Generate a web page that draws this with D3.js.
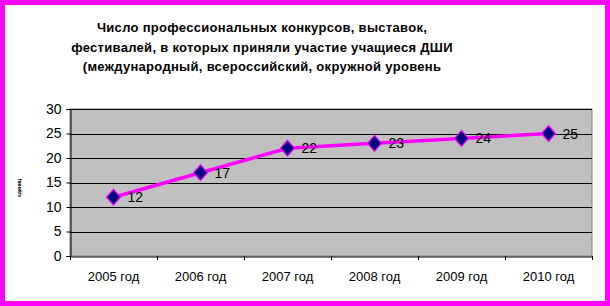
<!DOCTYPE html>
<html>
<head>
<meta charset="utf-8">
<script src="https://cdn.jsdelivr.net/npm/d3@7"></script>
<style>
  html, body { margin: 0; padding: 0; background: #fff; }
  svg { display: block; }
</style>
</head>
<body>
<div id="chart"></div>
<script>
const years = ['2005 год', '2006 год', '2007 год', '2008 год', '2009 год', '2010 год']
const counts = [12, 17, 22, 23, 24, 25]
const yTicks = [0, 5, 10, 15, 20, 25, 30]
const titleLines = [
  'Число профессиональных конкурсов, выставок,',
  'фестивалей, в которых приняли участие учащиеся ДШИ',
  '(международный, всероссийский, окружной уровень'
]

const W = 610, H = 306
const plot = {left: 70, right: 592, top: 109, bottom: 256}

const svg = d3.select('#chart').append('svg')
  .attr('width', W)
  .attr('height', H)
  .style('font-family', 'Arial, "Liberation Sans", sans-serif')

// magenta frame
svg.append('rect')
  .attr('x', 2.5).attr('y', 2.5)
  .attr('width', W - 5).attr('height', H - 5)
  .attr('fill', '#fff')
  .attr('stroke', '#ff00ff')
  .attr('stroke-width', 5)

svg.append('g').selectAll('text')
  .data(titleLines)
  .enter().append('text')
    .attr('x', 262)
    .attr('y', (d, i) => 32 + i * 19.5)
    .attr('text-anchor', 'middle')
    .style('font-size', '13px')
    .style('font-weight', 'bold')
    .style('letter-spacing', '0.3px')
    .text(d => d)

const x = d3.scaleBand().domain(years).range([plot.left, plot.right])
const y = d3.scaleLinear().domain([0, 30]).range([plot.bottom, plot.top])

svg.append('rect')
  .attr('x', plot.left).attr('y', plot.top)
  .attr('width', plot.right - plot.left).attr('height', plot.bottom - plot.top)
  .attr('fill', '#c0c0c0')
  .attr('stroke', '#808080')

svg.append('g').selectAll('line')
  .data(yTicks.slice(1))
  .enter().append('line')
    .attr('x1', plot.left).attr('x2', plot.right)
    .attr('y1', d => Math.round(y(d)) + 0.5)
    .attr('y2', d => Math.round(y(d)) + 0.5)
    .attr('stroke', '#000')

const yAxis = svg.append('g')
  .attr('transform', `translate(${plot.left + 0.5},0)`)
  .call(d3.axisLeft(y).tickValues(yTicks).tickSize(4).tickPadding(5))
yAxis.selectAll('text').style('font-size', '14px').style('font-family', 'Arial, "Liberation Sans", sans-serif').attr('fill', '#000')
yAxis.selectAll('line, path').attr('stroke', '#000')

const xAxis = svg.append('g')
  .attr('transform', `translate(0,${plot.bottom + 0.5})`)
  .call(d3.axisBottom(x).tickSize(0).tickPadding(15))
xAxis.select('.domain').attr('stroke', '#000')
xAxis.selectAll('text').style('font-size', '13px').style('font-family', 'Arial, "Liberation Sans", sans-serif').attr('fill', '#000')

svg.append('g').selectAll('line')
  .data(years.concat(['end']))
  .enter().append('line')
    .attr('x1', (d, i) => Math.round(plot.left + i * x.bandwidth()) + 0.5)
    .attr('x2', (d, i) => Math.round(plot.left + i * x.bandwidth()) + 0.5)
    .attr('y1', plot.bottom)
    .attr('y2', plot.bottom + 4)
    .attr('stroke', '#000')

// axis title (tiny, rotated)
svg.append('text')
  .attr('transform', 'translate(21,188) rotate(-90)')
  .attr('text-anchor', 'middle')
  .style('font-size', '5px')
  .style('font-weight', 'bold')
  .text('единиц')

const cx = d => x(d) + x.bandwidth() / 2

svg.append('path')
  .datum(counts)
  .attr('fill', 'none')
  .attr('stroke', '#ff00ff')
  .attr('stroke-width', 3.5)
  .attr('d', d3.line().x((d, i) => cx(years[i])).y(d => y(d)))

svg.append('g').selectAll('path')
  .data(counts)
  .enter().append('path')
    .attr('d', (d, i) => {
      const px = cx(years[i]), py = y(d)
      return `M${px},${py - 8}L${px + 7},${py}L${px},${py + 8}L${px - 7},${py}Z`
    })
    .attr('fill', '#000080')
    .attr('stroke', '#ff00ff')
    .attr('stroke-width', 1.2)

svg.append('g').selectAll('text')
  .data(counts)
  .enter().append('text')
    .attr('x', (d, i) => cx(years[i]) + 14)
    .attr('y', d => y(d) + 5)
    .style('font-size', '14px')
    .text(d => d)
</script>
</body>
</html>
